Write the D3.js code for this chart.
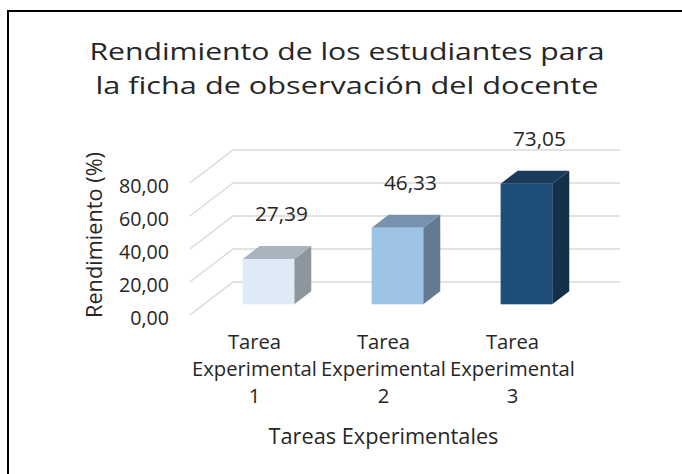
<!DOCTYPE html>
<html>
<head>
<meta charset="utf-8">
<script src="https://cdn.jsdelivr.net/npm/d3@7"></script>
<style>
  html, body { margin: 0; padding: 0; background: #fff; }
  svg { display: block; }
  text { font-family: "Open Sans", Lato, sans-serif; fill: #262626; }
</style>
</head>
<body>
<svg id="chart" width="682" height="474"></svg>
<script>
// ---- data ----
const titleLines = ["Rendimiento de los estudiantes para", "la ficha de observación del docente"];
const categories = ["Tarea Experimental 1", "Tarea Experimental 2", "Tarea Experimental 3"];
const values = [27.39, 46.33, 73.05];
const yTicks = [0, 20, 40, 60, 80];
const yTitle = "Rendimiento (%)";
const xTitle = "Tareas Experimentales";
const frontColors = ["#DEEBF7", "#9DC3E6", "#1F4E79"];
const topColors   = ["#A9B4BF", "#7792AE", "#183A5B"];
const sideColors  = ["#8C969F", "#637A91", "#142F4A"];

// ---- layout ----
const W = 682, H = 474;
const svg = d3.select("#chart");
const loc = d3.formatLocale({decimal: ",", thousands: ".", grouping: [3], currency: ["", "€"]});
const fmt = loc.format(".2f");

// font size so that a sample string gets a given width
function fitSize(sample, target) {
  const t = svg.append("text").style("font-size", "20px").text(sample);
  const w = t.node().getComputedTextLength();
  t.remove();
  return (20 * target / w).toFixed(2) + "px";
}

svg.append("rect").attr("x", 0).attr("y", 0).attr("width", W).attr("height", H).attr("fill", "#fff");
// chart frame (top and left visible)
svg.append("rect").attr("x", 8).attr("y", 11).attr("width", 720).attr("height", 520)
  .attr("fill", "none").attr("stroke", "#000").attr("stroke-width", 2);

const DX = 43, DY = -33; // depth vector
const x = d3.scaleBand().domain(categories).range([190, 577]).paddingInner(0).paddingOuter(0);
const y = d3.scaleLinear().domain([0, 80]).range([315, 183]);
const wallRight = 620;

// gridlines: side wall diagonal + back wall horizontal
svg.append("g").selectAll("path").data(yTicks).join("path")
  .attr("d", t => `M${x.range()[0]},${y(t)} L${x.range()[0] + DX},${y(t) + DY} L${wallRight},${y(t) + DY}`)
  .attr("fill", "none").attr("stroke", "#D9D9D9").attr("stroke-width", 1.4);

// y tick labels
const tickSize = fitSize("80,00", 50);
svg.append("g").selectAll("text").data(yTicks).join("text")
  .attr("x", 169).attr("y", t => y(t) + 2)
  .attr("text-anchor", "end").attr("dominant-baseline", "central")
  .style("font-size", tickSize).text(t => fmt(t));

// bars
const d0 = 0.324, d1 = 0.72;
const bw = x.bandwidth();
const bars = svg.append("g").selectAll("g").data(values).join("g");
function geom(v, i) {
  const xa = x(categories[i]) + 0.3 * bw, xb = xa + 0.4 * bw;
  return {
    fx0: xa + DX * d0, fx1: xb + DX * d0, bx0: xa + DX * d1, bx1: xb + DX * d1,
    ft: y(v) + DY * d0, fb: y(0) + DY * d0, bt: y(v) + DY * d1, bb: y(0) + DY * d1
  };
}
bars.append("polygon")
  .attr("points", (v, i) => { const g = geom(v, i); return [[g.fx1, g.ft], [g.bx1, g.bt], [g.bx1, g.bb], [g.fx1, g.fb]].join(" "); })
  .attr("fill", (v, i) => sideColors[i]);
bars.append("polygon")
  .attr("points", (v, i) => { const g = geom(v, i); return [[g.fx0, g.ft], [g.fx1, g.ft], [g.bx1, g.bt], [g.bx0, g.bt]].join(" "); })
  .attr("fill", (v, i) => topColors[i]);
bars.append("rect")
  .attr("x", (v, i) => geom(v, i).fx0)
  .attr("y", (v, i) => geom(v, i).ft)
  .attr("width", (v, i) => { const g = geom(v, i); return g.fx1 - g.fx0; })
  .attr("height", (v, i) => { const g = geom(v, i); return g.fb - g.ft; })
  .attr("fill", (v, i) => frontColors[i]);

// data labels
const labSize = fitSize("27,39", 53);
svg.append("g").selectAll("text").data(values).join("text")
  .attr("x", (v, i) => { const g = geom(v, i); return (g.fx0 + g.fx1) / 2 + 13; })
  .attr("y", (v, i) => geom(v, i).ft - 46)
  .attr("text-anchor", "middle").attr("dominant-baseline", "central")
  .style("font-size", labSize).text(v => fmt(v));

// category labels
const catSize = fitSize("Experimental", 125);
const cat = svg.append("g").selectAll("text").data(categories).join("text")
  .attr("text-anchor", "middle").style("font-size", catSize);
cat.each(function(c) {
  const parts = ["Tarea", "Experimental", c.replace("Tarea Experimental ", "")];
  d3.select(this).selectAll("tspan").data(parts).join("tspan")
    .attr("x", x(c) + bw / 2)
    .attr("y", (p, j) => 349 + j * 27)
    .text(p => p);
});

// axis titles
svg.append("text")
  .attr("x", (x.range()[0] + x.range()[1]) / 2).attr("y", 444)
  .attr("text-anchor", "middle").style("font-size", fitSize(xTitle, 230)).text(xTitle);
svg.append("text")
  .attr("transform", "translate(102,235) rotate(-90)")
  .attr("text-anchor", "middle").style("font-size", fitSize(yTitle, 166)).text(yTitle);

// title (two lines, each stretched to the reference width)
const titleWidths = [515, 503];
svg.append("g").selectAll("text").data(titleLines).join("text")
  .attr("x", 347).attr("y", (d, i) => 60 + i * 33.5)
  .attr("text-anchor", "middle").style("font-size", "24px")
  .attr("textLength", (d, i) => titleWidths[i]).attr("lengthAdjust", "spacingAndGlyphs")
  .text(d => d);
</script>
</body>
</html>
